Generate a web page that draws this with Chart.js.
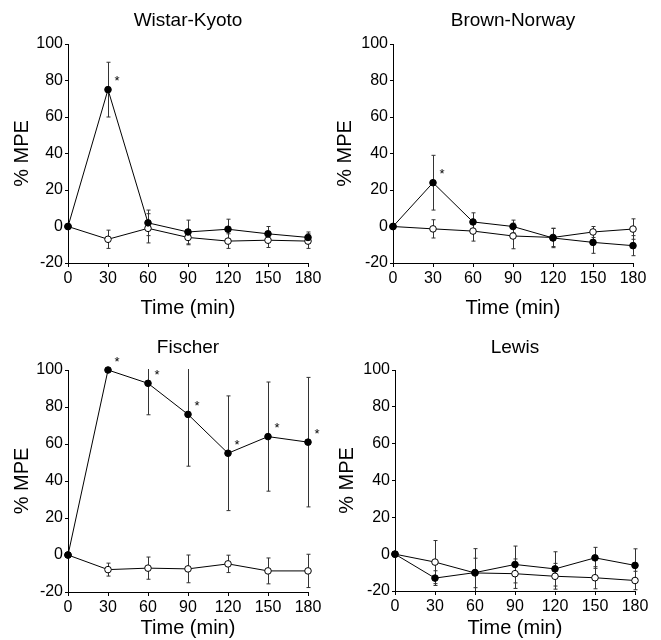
<!DOCTYPE html>
<html>
<head>
<meta charset="utf-8">
<script src="https://cdn.jsdelivr.net/npm/chart.js@4.4.1/dist/chart.umd.min.js"></script>
<style>
  body { margin: 0; background: #fff; }
  .panel { position: absolute; width: 330px; height: 320px; }
</style>
</head>
<body>
<div class="panel" style="left:0;top:0"><canvas id="wk"></canvas></div>
<div class="panel" style="left:330px;top:0"><canvas id="bn"></canvas></div>
<div class="panel" style="left:0;top:320px"><canvas id="fi"></canvas></div>
<div class="panel" style="left:330px;top:320px"><canvas id="le"></canvas></div>
<script>
// time points (min)
const times = [0, 30, 60, 90, 120, 150, 180];
const yTicks = [-20, 0, 20, 40, 60, 80, 100];

// Wistar-Kyoto
const wkFilled = [0, 75, 2, -3, -1.5, -4, -6];
const wkFilledErr = [0, 15, 7, 6.5, 5.5, 4, 3];
const wkOpen = [0, -7, -1, -6, -8, -7.5, -8];
const wkOpenErr = [0, 5, 8, 4, 4, 4, 4];
const wkSig = [0, 1, 0, 0, 0, 0, 0];

// Brown-Norway
const bnFilled = [0, 24, 2.5, 0, -6.3, -8.7, -10.5];
const bnFilledErr = [0, 15, 5, 3.5, 5.3, 6, 5.5];
const bnOpen = [0, -1.3, -2.5, -5.2, -6, -3, -1.4];
const bnOpenErr = [0, 5, 5.5, 7, 5, 3, 5.6];
const bnSig = [0, 1, 0, 0, 0, 0, 0];

// Fischer
const fiFilled = [0, 100, 92.8, 76, 55, 64, 61];
const fiFilledErr = [0, 0, 17, 28, 31, 29.5, 35];
const fiOpen = [0, -7.9, -7.1, -7.5, -4.8, -8.6, -8.6];
const fiOpenErr = [0, 3.5, 6, 7.5, 4.7, 7, 9];
const fiSig = [0, 1, 1, 1, 1, 1, 1];

// Lewis
const leFilled = [0, -13, -10, -5.6, -8, -2, -6.1];
const leFilledErr = [0, 4, 13, 10, 9.3, 5.7, 9];
const leOpen = [0, -4.3, -10.2, -10.6, -12, -12.8, -14.3];
const leOpenErr = [0, 11.7, 8, 8, 7, 6, 5];
const leSig = [0, 0, 0, 0, 0, 0, 0];

const FONT = "'Liberation Sans', Arial, Helvetica, sans-serif";

// error bars, drawn under the lines
const errorBars = {
  id: 'errorBars',
  beforeDatasetsDraw(chart) {
    const ctx = chart.ctx, a = chart.chartArea;
    const xs = chart.scales.x, ys = chart.scales.y;
    ctx.save();
    ctx.beginPath();
    ctx.rect(a.left, a.top - 1, a.right - a.left + 6, a.bottom - a.top + 1);
    ctx.clip();
    ctx.strokeStyle = '#333';
    ctx.lineWidth = 1;
    chart.data.datasets.forEach(ds => {
      ds.data.forEach((p, i) => {
        const e = ds.errors[i];
        if (!e) return;
        const x = Math.round(xs.getPixelForValue(p.x)) + 0.5;
        const y1 = ys.getPixelForValue(p.y + e);
        const y2 = ys.getPixelForValue(p.y - e);
        ctx.beginPath();
        ctx.moveTo(x, y1); ctx.lineTo(x, y2);
        ctx.moveTo(x - 2, y1); ctx.lineTo(x + 2, y1);
        ctx.moveTo(x - 2, y2); ctx.lineTo(x + 2, y2);
        ctx.stroke();
      });
    });
    ctx.restore();
  }
};

// asterisks and panel title
const marks = {
  id: 'marks',
  afterDatasetsDraw(chart, args, opts) {
    const ctx = chart.ctx, a = chart.chartArea;
    const xs = chart.scales.x, ys = chart.scales.y;
    ctx.save();
    ctx.fillStyle = '#000';
    ctx.font = '13px ' + FONT;
    ctx.textAlign = 'center';
    ctx.textBaseline = 'middle';
    const ds = chart.data.datasets[0];
    opts.sig.forEach((s, i) => {
      if (!s) return;
      const p = ds.data[i];
      ctx.fillText('*', xs.getPixelForValue(p.x) + 9, ys.getPixelForValue(p.y) - 8);
    });
    ctx.font = '19px ' + FONT;
    ctx.fillText(opts.title, (a.left + a.right) / 2, opts.titleY);
    ctx.restore();
  }
};

function makePanel(id, title, filled, filledErr, open, openErr, sig, box) {
  new Chart(id, {
    type: 'line',
    data: {
      datasets: [{
        data: times.map((t, i) => ({ x: t, y: filled[i] })),
        errors: filledErr,
        borderColor: '#000',
        borderWidth: 1,
        pointRadius: 3.3,
        pointBackgroundColor: '#000',
        pointBorderColor: '#000',
        pointBorderWidth: 1
      }, {
        data: times.map((t, i) => ({ x: t, y: open[i] })),
        errors: openErr,
        borderColor: '#000',
        borderWidth: 1,
        pointRadius: 3.3,
        pointBackgroundColor: '#fff',
        pointBorderColor: '#000',
        pointBorderWidth: 1
      }]
    },
    options: {
      responsive: true,
      maintainAspectRatio: false,
      animation: false,
      clip: false,
      layout: { padding: { top: box.top, right: 330 - box.right, left: 0, bottom: 0 } },
      plugins: {
        legend: { display: false },
        tooltip: { enabled: false },
        marks: { sig: sig, title: title, titleY: box.titleY }
      },
      scales: {
        x: {
          type: 'linear', min: 0, max: 180,
          afterBuildTicks: s => { s.ticks = times.map(v => ({ value: v })); },
          afterFit: s => { s.height = 320 - box.bottom; },
          border: { color: '#000', width: 1 },
          grid: { drawOnChartArea: false, tickLength: 4, color: '#000' },
          ticks: { color: '#000', font: { family: FONT, size: 16 }, padding: 2, maxRotation: 0 },
          title: { display: true, text: 'Time (min)', color: '#000',
                   font: { family: FONT, size: 20 }, padding: { top: box.xTitlePad, bottom: 0 } }
        },
        y: {
          min: -20, max: 100,
          afterBuildTicks: s => { s.ticks = yTicks.map(v => ({ value: v })); },
          afterFit: s => { s.width = box.left; },
          border: { color: '#000', width: 1 },
          grid: { drawOnChartArea: false, tickLength: 3, color: '#000' },
          ticks: { color: '#000', font: { family: FONT, size: 16 }, padding: 2 },
          title: { display: true, text: '% MPE', color: '#000',
                   font: { family: FONT, size: 20 }, padding: { top: box.yTitlePad, bottom: 0 } }
        }
      }
    },
    plugins: [errorBars, marks]
  });
}

makePanel('wk', 'Wistar-Kyoto', wkFilled, wkFilledErr, wkOpen, wkOpenErr, wkSig,
  { left: 68, right: 308, top: 44, bottom: 263, titleY: 21, xTitlePad: 4, yTitlePad: 10 });
makePanel('bn', 'Brown-Norway', bnFilled, bnFilledErr, bnOpen, bnOpenErr, bnSig,
  { left: 63, right: 303, top: 44, bottom: 263, titleY: 21, xTitlePad: 4, yTitlePad: 3 });
makePanel('fi', 'Fischer', fiFilled, fiFilledErr, fiOpen, fiOpenErr, fiSig,
  { left: 68, right: 308, top: 50, bottom: 272, titleY: 28, xTitlePad: 0, yTitlePad: 10 });
makePanel('le', 'Lewis', leFilled, leFilledErr, leOpen, leOpenErr, leSig,
  { left: 65, right: 305, top: 50, bottom: 271, titleY: 28, xTitlePad: 0, yTitlePad: 5 });
</script>
</body>
</html>
